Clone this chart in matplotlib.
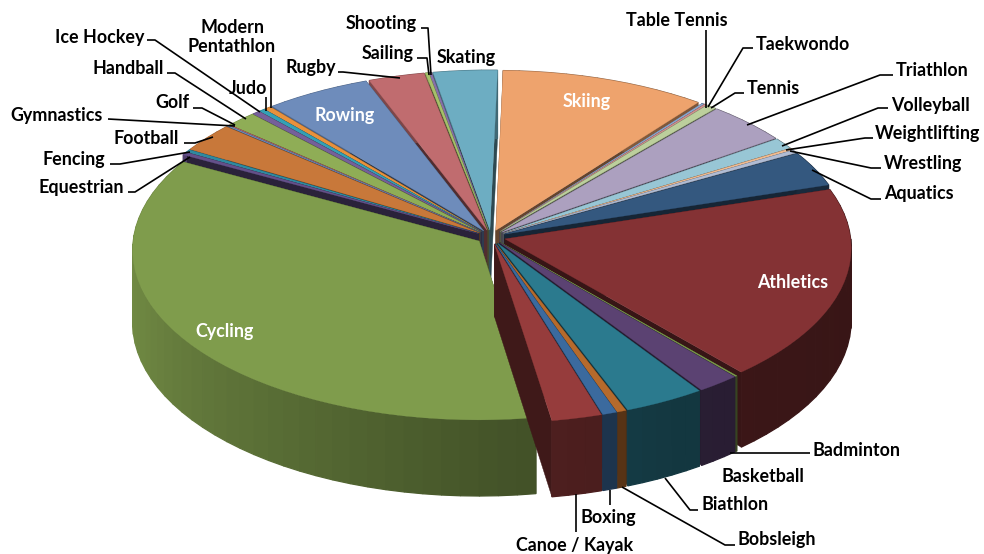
import numpy as np
import matplotlib
matplotlib.use("Agg")
import matplotlib.pyplot as plt

plt.rcParams['font.family'] = ['Lato', 'DejaVu Sans']

# clockwise from the Aquatics slice, share of the pie
sports = ["Aquatics", "Athletics", "Badminton", "Basketball", "Biathlon", "Bobsleigh",
          "Boxing", "Canoe / Kayak", "Cycling", "Equestrian", "Fencing", "Football",
          "Golf", "Gymnastics", "Handball", "Ice Hockey", "Judo", "Modern Pentathlon",
          "Rowing", "Rugby", "Sailing", "Shooting", "Skating", "Skiing",
          "Table Tennis", "Taekwondo", "Tennis", "Triathlon", "Volleyball",
          "Weightlifting", "Wrestling"]
shares = [12.1, 66.3, 0.3, 6.8, 12.9, 1.5,
          2.3, 8.0, 127.5, 1.0, 1.0, 10.0,
          0.3, 0.3, 5.3, 1.4, 1.1, 1.3,
          18.6, 9.9, 0.6, 0.5, 11.3, 36.3,
          0.5, 0.5, 1.8, 14.4, 3.9,
          0.7, 1.1]
colors = ["#34587f", "#843234", "#7f9c4c", "#5b4272", "#2b7a8e", "#b56a2c",
          "#3b6a9e", "#963c3c", "#7f9c4c", "#64508a", "#2f8aa0", "#c8783a",
          "#6f8fbf", "#c06a6a", "#8fad56", "#75609a", "#34a0b5", "#e8913c",
          "#6e8cbb", "#c06c6f", "#a6c06a", "#8570a8", "#6dadc2", "#eea36d",
          "#8ba8d0", "#d08e8e", "#bccf9c", "#aca0bf", "#98c6d5",
          "#f0bb90", "#b0bcd4"]

START = 29.4
CX, CY, RX, RY, K, DEPTH = 491, 237, 360, 176, 0.055, 72
EXPLODE = 0.04
RADIUS = 0.96

# label text: name, x, y, colour
labels = [("Aquatics", 919, 194, "black"), ("Wrestling", 923, 164, "black"),
          ("Weightlifting", 928, 134, "black"), ("Volleyball", 930, 105, "black"),
          ("Triathlon", 932, 70, "black"), ("Tennis", 773, 89, "black"),
          ("Taekwondo", 803, 44, "black"), ("Table Tennis", 677, 20, "black"),
          ("Skating", 466, 57, "black"), ("Shooting", 381, 24, "black"),
          ("Sailing", 388, 54, "black"), ("Rugby", 311, 67, "black"),
          ("Modern\nPentathlon", 232, 37, "black"), ("Judo", 248, 88, "black"),
          ("Ice Hockey", 100, 37, "black"), ("Handball", 128, 69, "black"),
          ("Golf", 172, 103, "black"), ("Gymnastics", 57, 115, "black"),
          ("Football", 146, 139, "black"), ("Fencing", 74, 159, "black"),
          ("Equestrian", 81, 188, "black"), ("Badminton", 857, 450, "black"),
          ("Basketball", 763, 476, "black"), ("Biathlon", 735, 505, "black"),
          ("Bobsleigh", 777, 540, "black"), ("Boxing", 608, 518, "black"),
          ("Canoe / Kayak", 575, 546, "black"), ("Skiing", 587, 102, "white"),
          ("Athletics", 793, 282, "white"), ("Cycling", 225, 331, "white"),
          ("Rowing", 345, 115, "white")]

leaders = [[(881, 199), (871, 199), (812, 170)], [(881, 168), (871, 168), (790, 151)],
           [(873, 138), (865, 138), (786, 150)], [(888, 108), (878, 108), (782, 146)],
           [(893, 75), (880, 75), (747, 125)], [(744, 93), (735, 93), (711, 108)],
           [(753, 48), (743, 48), (708, 107)], [(706, 30), (706, 108)],
           [(421, 28), (428, 28), (431, 75)], [(417, 58), (427, 58), (429, 75)],
           [(338, 72), (343, 72), (400, 78)], [(271, 58), (271, 108)], [(266, 97), (266, 111)],
           [(147, 40), (155, 40), (260, 112)], [(167, 73), (175, 73), (246, 119)],
           [(193, 108), (202, 108), (235, 125)], [(108, 119), (235, 126)],
           [(184, 143), (195, 143), (213, 137)], [(110, 164), (120, 164), (190, 152)],
           [(128, 192), (135, 192), (190, 157)], [(730, 453), (810, 453)],
           [(698, 510), (690, 510), (665, 478)], [(735, 545), (725, 545), (622, 487)],
           [(610, 490), (610, 505)], [(576, 494), (576, 532)]]


def project(u, v, h=0.0):
    w = 1 + K * v
    return CX + RX * u / w, CY - RY * v / w + DEPTH * h / w


def shade(color, f):
    return tuple(c * f for c in matplotlib.colors.to_rgb(color))


def wall_factor(deg):
    deg = deg % 360
    return np.interp(deg, [0, 90, 180, 200, 270, 300, 360], [0.42, 0.6, 0.9, 0.85, 0.55, 0.45, 0.42])


fig = plt.figure(figsize=(9.84, 5.54), dpi=100)
ax = fig.add_axes([0, 0, 1, 1])
ax.set_xlim(0, 984)
ax.set_ylim(554, 0)
ax.axis("off")

scale = 360 / sum(shares)
slices = []
a = START
for name, share, col in zip(sports, shares, colors):
    a1 = a - share * scale
    slices.append((name, a1, a, col))
    a = a1

# back slices first so the front ones cover them
slices.sort(key=lambda s: -np.sin(np.radians((s[1] + s[2]) / 2)))

z = 1
for name, a0, a1, col in slices:
    mid = np.radians((a0 + a1) / 2)
    ox, oy = EXPLODE * np.cos(mid), EXPLODE * np.sin(mid)
    n = max(2, int((a1 - a0) / 3) + 2)
    t = np.radians(np.linspace(a0, a1, n))
    us = ox + RADIUS * np.cos(t)
    vs = oy + RADIUS * np.sin(t)

    # radial walls
    for ang in (t[0], t[-1]):
        u1, v1 = ox + RADIUS * np.cos(ang), oy + RADIUS * np.sin(ang)
        pts = [project(ox, oy), project(u1, v1), project(u1, v1, 1), project(ox, oy, 1)]
        ax.fill(*zip(*pts), color=shade(col, 0.42), lw=0.3, zorder=z)
        z += 1

    # outer wall, split so the shading can change along it
    for i in range(n - 1):
        pts = [project(us[i], vs[i]), project(us[i + 1], vs[i + 1]),
               project(us[i + 1], vs[i + 1], 1), project(us[i], vs[i], 1)]
        f = wall_factor(np.degrees((t[i] + t[i + 1]) / 2))
        ax.fill(*zip(*pts), color=shade(col, f), lw=0.9, zorder=z)
        z += 1

    xy = [project(ox, oy)] + [project(u, v) for u, v in zip(us, vs)]
    ax.fill(*zip(*xy), color=col, lw=0.2, zorder=z)
    z += 1

for line in leaders:
    ax.plot(*zip(*line), color="black", lw=1.2, zorder=z, solid_capstyle="butt")

for name, x, y, c in labels:
    ax.text(x, y, name, ha="center", va="center", color=c, fontsize=12.9, fontweight="bold",
            linespacing=1.2, zorder=z + 1)

fig.savefig("out.png", dpi=100)
